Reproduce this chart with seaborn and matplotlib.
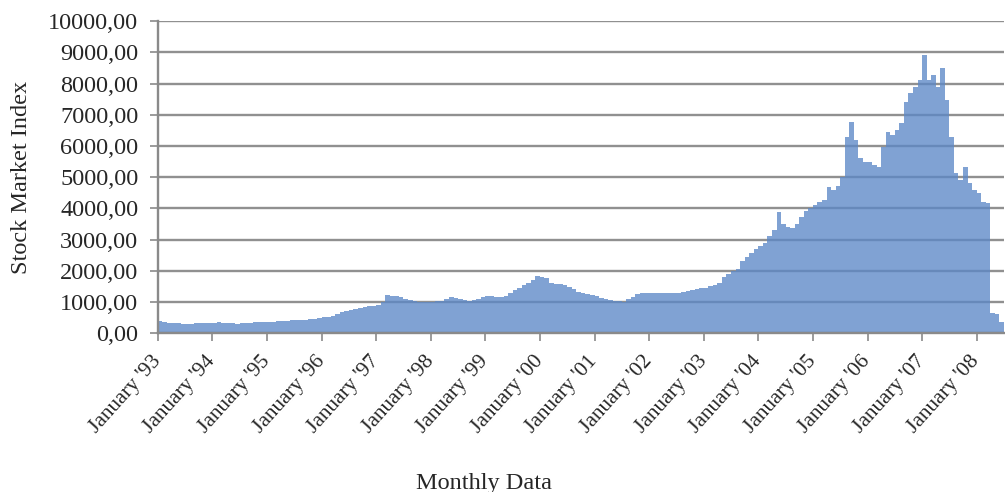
import numpy as np
import pandas as pd
import matplotlib
matplotlib.use("Agg")
import matplotlib.pyplot as plt
import seaborn as sns

# Monthly values, January 1993 .. June 2008
y1993 = [380, 350, 330, 320, 315, 305, 300, 305, 310, 310, 315, 320]
y1994 = [335, 340, 330, 320, 310, 305, 310, 320, 330, 340, 345, 350]
y1995 = [355, 365, 375, 385, 395, 405, 415, 425, 435, 450, 465, 480]
y1996 = [500, 520, 560, 620, 660, 700, 740, 780, 820, 850, 860, 870]
y1997 = [900, 990, 1230, 1200, 1180, 1150, 1080, 1050, 1030, 1010, 1000, 1000]
y1998 = [1010, 1020, 1040, 1080, 1150, 1130, 1100, 1060, 1040, 1060, 1100, 1150]
y1999 = [1180, 1190, 1170, 1150, 1200, 1300, 1380, 1450, 1550, 1600, 1700, 1830]
y2000 = [1800, 1780, 1600, 1580, 1560, 1540, 1480, 1400, 1320, 1270, 1240, 1220]
y2001 = [1180, 1130, 1090, 1060, 1040, 1030, 1010, 1080, 1150, 1250, 1290, 1290]
y2002 = [1300, 1300, 1290, 1280, 1270, 1280, 1300, 1320, 1340, 1370, 1400, 1440]
y2003 = [1460, 1500, 1540, 1600, 1800, 1900, 2000, 2070, 2300, 2440, 2560, 2700]
y2004 = [2800, 2880, 3100, 3300, 3880, 3500, 3400, 3360, 3500, 3720, 3900, 4000]
y2005 = [4100, 4200, 4260, 4680, 4580, 4700, 5000, 6280, 6760, 6190, 5610, 5500]
y2006 = [5480, 5400, 5320, 5960, 6440, 6350, 6500, 6730, 7400, 7690, 7900, 8110]
y2007 = [8900, 8110, 8270, 7880, 8490, 7470, 6280, 5130, 4900, 5320, 4810, 4600]
y2008 = [4490, 4200, 4170, 650, 620, 350]

values = (y1993 + y1994 + y1995 + y1996 + y1997 + y1998 + y1999 + y2000 +
          y2001 + y2002 + y2003 + y2004 + y2005 + y2006 + y2007 + y2008)
years = ["'93", "'94", "'95", "'96", "'97", "'98", "'99", "'00",
         "'01", "'02", "'03", "'04", "'05", "'06", "'07", "'08"]
tick_labels = ["January " + y for y in years]
yticks = [0, 1000, 2000, 3000, 4000, 5000, 6000, 7000, 8000, 9000, 10000]

df = pd.DataFrame({"month": np.arange(len(values)), "index": values})

sns.set_theme(style="white")
plt.rcParams['font.family'] = ['Liberation Serif', 'DejaVu Serif']

fig = plt.figure(figsize=(10.05, 4.92), dpi=100)
ax = fig.add_axes([0.157, 0.323, 0.842, 0.634])

sns.barplot(data=df, x="month", y="index", color="#5c88c7", width=1.0,
            linewidth=0, alpha=0.78, saturation=1, ax=ax, errorbar=None)

ax.set_axisbelow(True)
ax.yaxis.grid(True, color="#909090", linewidth=1.7)
ax.xaxis.grid(False)

ax.set_ylim(0, 10000)
ax.set_xlim(-0.5, len(values) - 0.5)
ax.set_yticks(yticks)
ax.set_yticklabels([f"{v},00" for v in yticks], fontsize=17.5)
ax.set_xticks([-0.5 + 12 * k for k in range(len(tick_labels))])
ax.set_xticklabels(tick_labels, rotation=48, ha="right", va="center",
                   rotation_mode="anchor", fontsize=15.5)

ax.tick_params(axis="y", which="major", direction="out", length=6,
               width=1.2, color="#8a8a8a", left=True, pad=8)
ax.tick_params(axis="x", which="major", direction="out", length=6,
               width=1.2, color="#8a8a8a", bottom=True, pad=12)

for s in ["top", "right"]:
    ax.spines[s].set_visible(False)
for s in ["left", "bottom"]:
    ax.spines[s].set_color("#8a8a8a")
    ax.spines[s].set_linewidth(1.7)

ax.set_ylabel("Stock Market Index", fontsize=17.5, labelpad=12)
ax.set_xlabel("")
fig.text(0.482, 0.018, "Monthly Data", fontsize=17.5, ha="center", va="center")

fig.savefig("out.png", dpi=100)
